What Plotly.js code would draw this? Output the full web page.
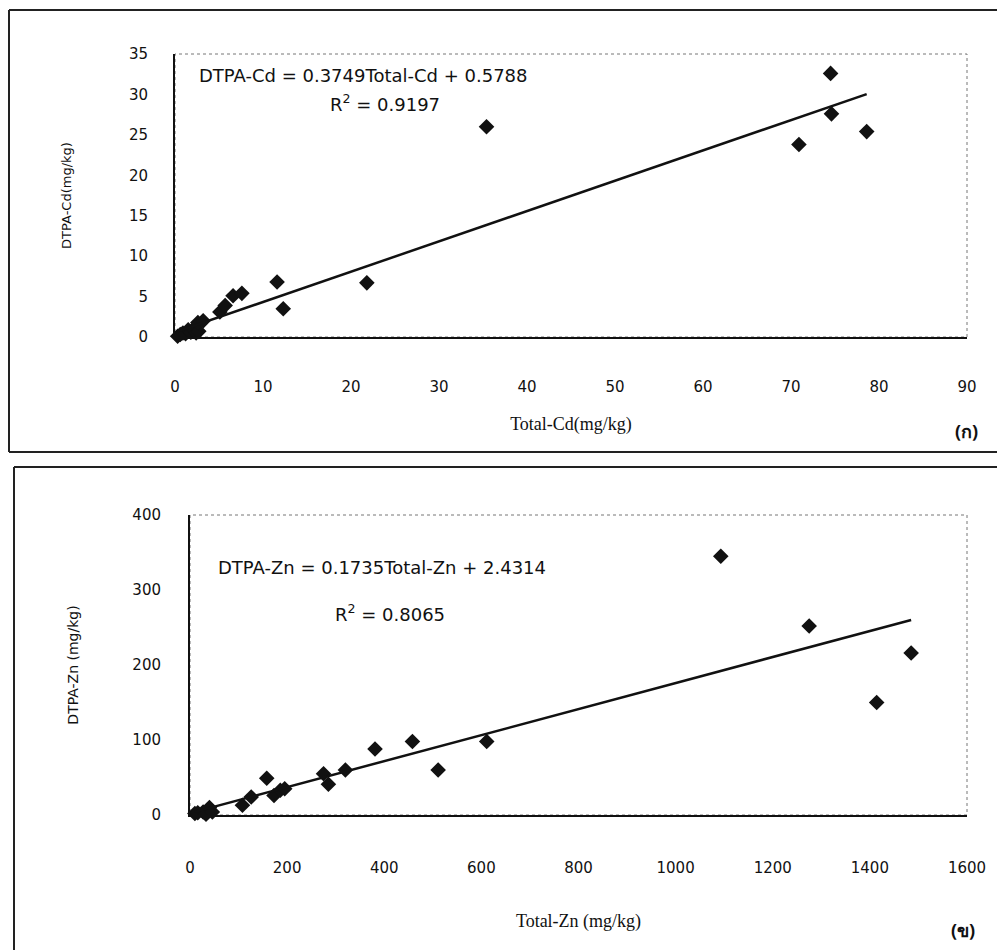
<!DOCTYPE html>
<html>
<head>
<meta charset="utf-8">
<script src="https://cdn.plot.ly/plotly-3.0.1.min.js"></script>
<style>html,body{margin:0;padding:0;background:#fff;}#chart{width:997px;height:950px;}</style>
</head>
<body>
<div id="chart"></div>
<script>
// ---- Data ----
const cdTotal = [0.3,0.6,0.9,1.2,1.5,1.8,2.1,2.4,2.7,2.6,3.2,5.1,5.7,6.6,7.6,11.6,12.3,21.8,35.4,70.9,74.5,74.6,78.6];
const cdDtpa  = [0.1,0.3,0.5,0.4,0.9,0.6,1.0,0.5,0.7,1.8,2.0,3.1,3.9,5.1,5.4,6.8,3.5,6.7,26.0,23.8,32.6,27.6,25.4];
const cdFit = [0.3749, 0.5788]; // slope, intercept
const cdR2 = 0.9197;

const znTotal = [10,16,27,33,40,46,108,126,158,173,186,195,275,285,320,381,458,511,611,1093,1275,1414,1485];
const znDtpa  = [2,3,4,1,10,4,13,24,49,26,33,35,55,41,60,88,98,60,98,345,252,150,216];
const znFit = [0.1735, 2.4314];
const znR2 = 0.8065;

const cdXTicks = [0,10,20,30,40,50,60,70,80,90];
const cdYTicks = [0,5,10,15,20,25,30,35];
const znXTicks = [0,200,400,600,800,1000,1200,1400,1600];
const znYTicks = [0,100,200,300,400];

const cdXTitle = 'Total-Cd(mg/kg)';
const cdYTitle = 'DTPA-Cd(mg/kg)';
const znXTitle = 'Total-Zn (mg/kg)';
const znYTitle = 'DTPA-Zn (mg/kg)';

// ---- helpers ----
const W = 997, H = 950;
const px = x => x / W;
const py = y => 1 - y / H;
function fitLine(xs, fit) {
  const lo = Math.min(...xs), hi = Math.max(...xs);
  return {x: [lo, hi], y: [fit[0]*lo + fit[1], fit[0]*hi + fit[1]]};
}
const cdLine = fitLine(cdTotal, cdFit);
const znLine = fitLine(znTotal, znFit);

const tickFont = {family: 'DejaVu Sans', size: 15, color: '#111'};
const markerStyle = {symbol: 'diamond', size: 12, color: '#111'};

const traces = [
  {x: cdTotal, y: cdDtpa, mode: 'markers', type: 'scatter', marker: markerStyle, xaxis: 'x', yaxis: 'y', cliponaxis: false},
  {x: cdLine.x, y: cdLine.y, mode: 'lines', type: 'scatter', line: {color: '#111', width: 2.5}, xaxis: 'x', yaxis: 'y'},
  {x: znTotal, y: znDtpa, mode: 'markers', type: 'scatter', marker: markerStyle, xaxis: 'x2', yaxis: 'y2', cliponaxis: false},
  {x: znLine.x, y: znLine.y, mode: 'lines', type: 'scatter', line: {color: '#111', width: 2.5}, xaxis: 'x2', yaxis: 'y2'}
];

function axis(domain, range, ticks, anchor, standoff, title) {
  return {domain: domain, range: range, tickvals: ticks, ticktext: ticks.map(String),
    showgrid: false, zeroline: false, showline: true, linecolor: '#111', linewidth: 2,
    ticks: '', tickfont: tickFont, anchor: anchor, ticklabelstandoff: standoff, fixedrange: true,
    automargin: false, title: title};
}

const eqFont = {family: 'DejaVu Sans', size: 18, color: '#111'};
const xTitleFont = {family: 'Liberation Serif', size: 18, color: '#111'};

const layout = {
  width: W, height: H,
  margin: {l: 0, r: 0, t: 0, b: 0},
  paper_bgcolor: '#fff', plot_bgcolor: '#fff',
  showlegend: false,
  xaxis: axis([px(175), px(967)], [0, 90], cdXTicks, 'y', 35,
    {text: cdXTitle, font: xTitleFont, standoff: 22}),
  yaxis: axis([py(337), py(54)], [0, 35], cdYTicks, 'x', 22,
    {text: cdYTitle, font: {family: 'DejaVu Sans', size: 13, color: '#111'}, standoff: 54}),
  xaxis2: axis([px(190), px(967)], [0, 1600], znXTicks, 'y2', 38,
    {text: znXTitle, font: xTitleFont, standoff: 38}),
  yaxis2: axis([py(815), py(515)], [0, 400], znYTicks, 'x2', 24,
    {text: znYTitle, font: {family: 'DejaVu Sans', size: 14, color: '#111'}, standoff: 50}),
  shapes: [
    // dotted plot-area frames (top/right)
    {type: 'rect', xref: 'x domain', yref: 'y domain', x0: 0, x1: 1, y0: 0, y1: 1, line: {color: '#777', width: 1, dash: 'dot'}, layer: 'below'},
    {type: 'rect', xref: 'x2 domain', yref: 'y2 domain', x0: 0, x1: 1, y0: 0, y1: 1, line: {color: '#777', width: 1, dash: 'dot'}, layer: 'below'},
    // panel (ก) frame
    {type: 'line', xref: 'paper', yref: 'paper', x0: px(9), x1: 1, y0: py(10), y1: py(10), line: {color: '#222', width: 2}},
    {type: 'line', xref: 'paper', yref: 'paper', x0: px(9), x1: px(9), y0: py(10), y1: py(452), line: {color: '#222', width: 2}},
    {type: 'line', xref: 'paper', yref: 'paper', x0: px(9), x1: 1, y0: py(452), y1: py(452), line: {color: '#222', width: 2}},
    // panel (ข) frame
    {type: 'line', xref: 'paper', yref: 'paper', x0: px(14), x1: 1, y0: py(467), y1: py(467), line: {color: '#222', width: 2}},
    {type: 'line', xref: 'paper', yref: 'paper', x0: px(14), x1: px(14), y0: py(467), y1: 0, line: {color: '#222', width: 2}}
  ],
  annotations: [
    {text: 'DTPA-Cd = ' + cdFit[0] + 'Total-Cd + ' + cdFit[1], xref: 'paper', yref: 'paper', x: px(197), y: py(75), xanchor: 'left', yanchor: 'middle', showarrow: false, font: eqFont},
    {text: 'R<sup>2</sup> = ' + cdR2, xref: 'paper', yref: 'paper', x: px(328), y: py(103), xanchor: 'left', yanchor: 'middle', showarrow: false, font: eqFont},
    {text: 'DTPA-Zn = ' + znFit[0] + 'Total-Zn + ' + znFit[1], xref: 'paper', yref: 'paper', x: px(216), y: py(567), xanchor: 'left', yanchor: 'middle', showarrow: false, font: eqFont},
    {text: 'R<sup>2</sup> = ' + znR2, xref: 'paper', yref: 'paper', x: px(333), y: py(613), xanchor: 'left', yanchor: 'middle', showarrow: false, font: eqFont},
    // panel labels
    {text: '<b>(ก)</b>', xref: 'paper', yref: 'paper', x: px(966), y: py(431), xanchor: 'center', yanchor: 'middle', showarrow: false, font: {family: 'Noto Sans, DejaVu Sans', size: 18, color: '#111'}},
    {text: '<b>(ข)</b>', xref: 'paper', yref: 'paper', x: px(963), y: py(930), xanchor: 'center', yanchor: 'middle', showarrow: false, font: {family: 'Noto Sans, DejaVu Sans', size: 18, color: '#111'}}
  ]
};

Plotly.newPlot('chart', traces, layout, {displayModeBar: false, staticPlot: true});
</script>
</body>
</html>
